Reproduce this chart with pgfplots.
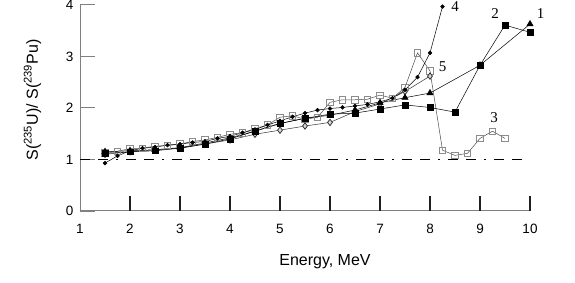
\documentclass[border=0pt]{standalone}
\usepackage{fontspec}
\setmainfont{Liberation Sans}
\newfontfamily\serif{Liberation Serif}
\usepackage{pgfplots}
\pgfplotsset{compat=1.18}
\definecolor{axgray}{HTML}{808080}
\definecolor{sqgray}{HTML}{8C8C8C}
\definecolor{tickc}{HTML}{202020}
\begin{document}
\begin{tikzpicture}
\begin{axis}[
  scale only axis, width=450pt, height=206pt,
  xmin=1, xmax=10, ymin=0, ymax=4,
  axis line style={draw=none},
  xtick pos=bottom, ytick pos=left,
  xtick={1,...,10}, ytick={0,...,4},
  major tick length=0pt,
  tick label style={font=\fontsize{13.5}{13.5}\selectfont},
  /pgf/number format/assume math mode=true,
  xticklabel style={yshift=-10pt},
  yticklabel style={xshift=-3pt},
  xlabel={Energy, MeV},
  xlabel style={font=\fontsize{16}{16}\selectfont, yshift=-14pt, xshift=20pt},
  ylabel={S(\textsuperscript{235}U)/ S(\textsuperscript{239}Pu)},
  ylabel style={font=\fontsize{16}{16}\selectfont, yshift=18pt, xshift=8pt},
  clip=false,
]
% axis lines and inward ticks
\draw[axgray, line width=1pt] (axis cs:1,4) -- (axis cs:1,0) -- (axis cs:10,0);
\draw[tickc, line width=1.1pt] (axis cs:2,0) -- (axis cs:2,0.29);
\draw[tickc, line width=1.1pt] (axis cs:3,0) -- (axis cs:3,0.29);
\draw[tickc, line width=1.1pt] (axis cs:4,0) -- (axis cs:4,0.29);
\draw[tickc, line width=1.1pt] (axis cs:5,0) -- (axis cs:5,0.29);
\draw[tickc, line width=1.1pt] (axis cs:6,0) -- (axis cs:6,0.29);
\draw[tickc, line width=1.1pt] (axis cs:7,0) -- (axis cs:7,0.29);
\draw[tickc, line width=1.1pt] (axis cs:8,0) -- (axis cs:8,0.29);
\draw[tickc, line width=1.1pt] (axis cs:9,0) -- (axis cs:9,0.29);
\draw[tickc, line width=1.1pt] (axis cs:10,0) -- (axis cs:10,0.29);
\draw[axgray, line width=1.3pt] (axis cs:1,0) -- (axis cs:1.3,0);
\draw[axgray, line width=1pt] (axis cs:1,1) -- (axis cs:1.3,1);
\draw[axgray, line width=1pt] (axis cs:1,2) -- (axis cs:1.3,2);
\draw[axgray, line width=1pt] (axis cs:1,3) -- (axis cs:1.3,3);
\draw[axgray, line width=1pt] (axis cs:1,4) -- (axis cs:1.3,4);
% reference line
\addplot[black, line width=0.9pt, dash pattern=on 10pt off 8pt on 10pt off 8pt on 2pt off 8pt] coordinates {(1,1) (9.9,1)};
% series 3 open squares (gray)
\addplot[black!70, line width=0.5pt, mark=square, mark size=3.2pt, mark options={sqgray, fill=white, line width=0.7pt}] coordinates {
(1.5,1.13) (1.75,1.16) (2,1.21) (2.25,1.22) (2.5,1.26) (2.75,1.27) (3,1.30) (3.25,1.35) (3.5,1.38) (3.75,1.43) (4,1.49) (4.25,1.52) (4.5,1.60) (4.75,1.67) (5,1.82) (5.25,1.85) (5.5,1.78) (5.75,1.82) (6,2.11) (6.25,2.16) (6.5,2.16) (6.75,2.17) (7,2.25) (7.25,2.19) (7.5,2.40) (7.75,3.07) (8,2.72) (8.25,1.18) (8.5,1.08) (8.75,1.12) (9,1.41) (9.25,1.55) (9.5,1.41)};
% series 5 diamonds
\addplot[black!80, line width=0.5pt, mark=diamond*, mark size=3.2pt, mark options={black!80, fill=white!70!gray, line width=0.8pt}] coordinates {
(1.5,1.10) (2,1.15) (2.5,1.19) (3,1.22) (3.5,1.30) (4,1.38) (4.5,1.49) (5,1.57) (5.5,1.65) (6,1.72) (6.5,1.93) (7,2.08) (7.5,2.32) (8,2.62)};
% series 4 small circles
\addplot[black, line width=0.5pt, mark=*, mark size=1.9pt] coordinates {
(1.5,0.93) (1.75,1.07) (2,1.17) (2.25,1.22) (2.5,1.24) (2.75,1.28) (3,1.30) (3.25,1.33) (3.5,1.35) (3.75,1.41) (4,1.45) (4.25,1.52) (4.5,1.58) (4.75,1.67) (5,1.75) (5.25,1.83) (5.5,1.90) (5.75,1.96) (6,1.99) (6.25,2.01) (6.5,2.04) (6.75,2.07) (7,2.12) (7.25,2.19) (7.5,2.35) (7.75,2.60) (8,3.07) (8.25,3.97)};
% series 1 triangles
\addplot[black, line width=0.5pt, mark=triangle*, mark size=3.6pt] coordinates {
(1.5,1.15) (2,1.17) (2.5,1.19) (3,1.23) (3.5,1.32) (4,1.42) (4.5,1.55) (5,1.70) (5.5,1.80) (6,1.86) (6.5,1.96) (7,2.10) (7.5,2.20) (8,2.29) (9,2.83) (10,3.63)};
% series 2 filled squares
\addplot[black, line width=0.5pt, mark=square*, mark size=2.9pt] coordinates {
(1.5,1.12) (2,1.15) (2.5,1.17) (3,1.22) (3.5,1.30) (4,1.40) (4.5,1.55) (5,1.70) (5.5,1.80) (6,1.88) (6.5,1.90) (7,1.98) (7.5,2.06) (8,2.01) (8.5,1.92) (9,2.83) (9.5,3.61) (10,3.47)};
\node[font=\serif\fontsize{15}{15}\selectfont] at (axis cs:10.21,3.83) {1};
\node[font=\serif\fontsize{15}{15}\selectfont] at (axis cs:9.30,3.83) {2};
\node[font=\serif\fontsize{15}{15}\selectfont] at (axis cs:9.28,1.81) {3};
\node[font=\serif\fontsize{15}{15}\selectfont] at (axis cs:8.50,3.97) {4};
\node[font=\serif\fontsize{15}{15}\selectfont] at (axis cs:8.25,2.80) {5};
\end{axis}
\pgfresetboundingbox
\path[use as bounding box] (-80pt,-72pt) rectangle (495pt,211pt);
\end{tikzpicture}
\end{document}
